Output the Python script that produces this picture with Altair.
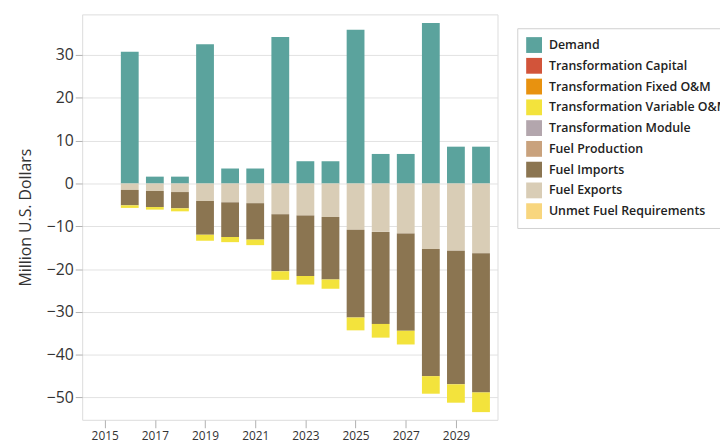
import altair as alt
import pandas as pd

years = list(range(2016, 2031))
categories = [
    "Demand",
    "Transformation Capital",
    "Transformation Fixed O&M",
    "Transformation Variable O&M",
    "Transformation Module",
    "Fuel Production",
    "Fuel Imports",
    "Fuel Exports",
    "Unmet Fuel Requirements",
]
colors = ["#5ba39d", "#d2543a", "#e8920f", "#f3e33c", "#b3a6ad",
          "#c9a27d", "#8b7551", "#d9cdb6", "#f8d67e"]

demand = [30.8, 1.6, 1.6, 32.5, 3.5, 3.5, 34.2, 5.2, 5.2, 35.9, 6.9, 6.9, 37.5, 8.6, 8.6]
fuel_exports = [-1.5, -1.75, -2.0, -4.1, -4.4, -4.6, -7.2, -7.5, -7.8, -10.8, -11.3, -11.7, -15.3, -15.7, -16.3]
fuel_imports = [-3.6, -3.75, -3.8, -7.9, -8.1, -8.5, -13.3, -14.1, -14.6, -20.5, -21.5, -22.7, -29.7, -31.2, -32.5]
variable_om = [-0.6, -0.6, -0.7, -1.4, -1.2, -1.3, -2.0, -2.0, -2.2, -3.0, -3.2, -3.2, -4.1, -4.3, -4.6]

series = [
    ("Demand", demand, 0),
    ("Fuel Exports", fuel_exports, 1),
    ("Fuel Imports", fuel_imports, 2),
    ("Transformation Variable O&M", variable_om, 3),
]
rows = []
for name, vals, rank in series:
    for y, v in zip(years, vals):
        rows.append({"year": y, "category": name, "value": v, "rank": rank})
df = pd.DataFrame(rows)

font = "Open Sans"

chart = alt.Chart(df).mark_bar(size=18).encode(
    x=alt.X("year:Q",
            scale=alt.Scale(domain=[2014.3, 2030.46], nice=False, zero=False),
            axis=alt.Axis(values=list(range(2015, 2030, 2)), format="d", title=None,
                          grid=False, domain=False, tickSize=8, tickColor="#b0b0b0",
                          labelFontSize=12, labelColor="#333333", labelFont=font,
                          labelPadding=3)),
    y=alt.Y("value:Q",
            scale=alt.Scale(domain=[-55.2, 39.5], nice=False, zero=False),
            stack="zero",
            axis=alt.Axis(values=list(range(-50, 31, 10)), title="Million U.S. Dollars",
                          titleFontSize=16, titleFont=font, titleFontWeight="normal",
                          titleColor="#333333", titlePadding=13,
                          grid=True, gridColor="#e2e2e2", domain=False,
                          tickSize=7, tickColor="#b0b0b0",
                          labelFontSize=16, labelColor="#333333", labelFont=font,
                          labelPadding=2)),
    color=alt.Color("category:N",
                    scale=alt.Scale(domain=categories, range=colors),
                    legend=alt.Legend(title=None, orient="none", legendX=440, legendY=14,
                                      symbolType="square", symbolSize=256,
                                      symbolStrokeWidth=0, labelFontSize=12.5,
                                      labelFont=font, labelFontWeight=600,
                                      labelColor="#222222", labelOffset=7,
                                      rowPadding=5, padding=9,
                                      strokeColor="#d0d0d0", fillColor="white",
                                      labelLimit=400)),
    order=alt.Order("rank:Q"),
).properties(
    width=420, height=410,
    autosize=alt.AutoSizeParams(type="none"),
    padding={"left": 75, "top": 4, "right": 225, "bottom": 23},
).configure_view(stroke="#dcdcdc").configure(background="white")

chart.save("out.html", embed_options={"renderer": "svg", "actions": False})
